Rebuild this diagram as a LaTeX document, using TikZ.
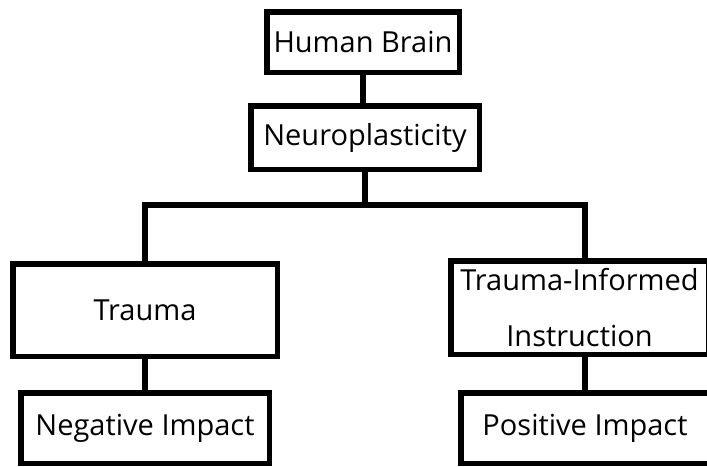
\documentclass[tikz,border=0pt]{standalone}
\usepackage{fontspec}
\setmainfont{Open Sans}

\begin{document}
\begin{tikzpicture}[
			x=1pt, y=1pt,
			box/.style={draw, line width=5.5pt, fill=white, align=center,
				inner sep=0pt, font=\fontsize{29}{56}\selectfont},
			link/.style={line width=5.5pt}
		]
		\useasboundingbox (0,0) rectangle (707,-466);
		\node[box, minimum width=192.5pt, minimum height=60.5pt] (brain) at (363,-42) {Human Brain};
		\node[box, minimum width=228.5pt, minimum height=63.5pt] (neuro) at (365,-137.5) {Neuroplasticity};
		\node[box, minimum width=264.5pt, minimum height=92.5pt] (trauma) at (145,-310) {Trauma};
		\node[box, minimum width=248.5pt, minimum height=70.5pt] (negative) at (145,-428) {Negative Impact};
		\node[box, minimum width=257.5pt, minimum height=93.5pt] (informed) at (579.5,-307.5) {Trauma-Informed\\Instruction};
		\node[box, minimum width=248.5pt, minimum height=70.5pt] (positive) at (585,-428) {Positive Impact};

		\draw[link] (brain.south) -- (brain.south |- neuro.north);
		\draw[link] (neuro.south) -- ++(0,-33) -| (trauma.north);
		\draw[link] (neuro.south) -- ++(0,-33) -| (positive.north |- informed.north);
		\draw[link] (trauma.south) -- (negative.north);
		\draw[link] (positive.north) -- (positive.north |- informed.south);
	\end{tikzpicture}
\end{document}
